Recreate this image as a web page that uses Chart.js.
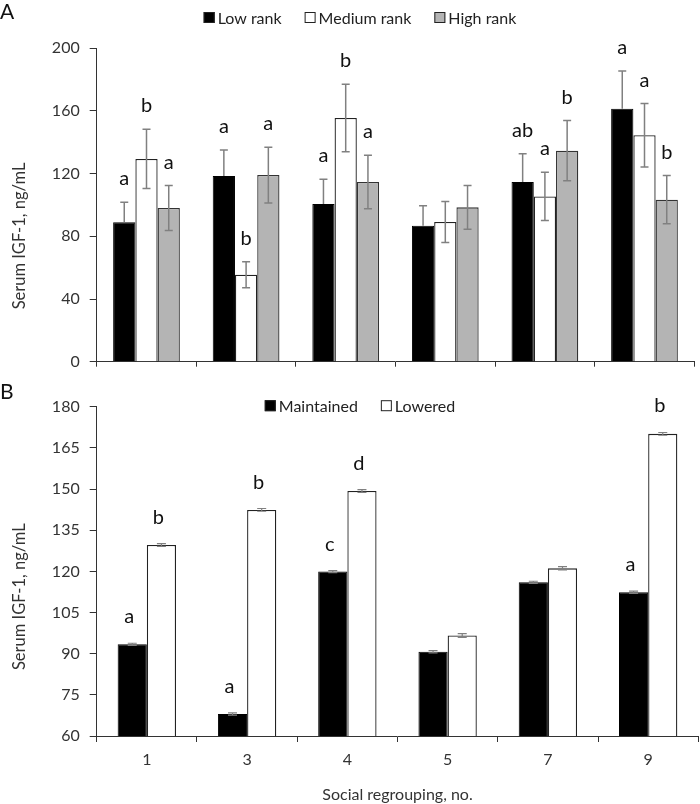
<!DOCTYPE html>
<html><head><meta charset="utf-8">
<script src="https://cdn.jsdelivr.net/npm/chart.js@4.4.1/dist/chart.umd.min.js"></script>
<style>
html,body{margin:0;padding:0;background:#fff;}
#wrap{position:relative;width:700px;height:804px;overflow:hidden;}
canvas{position:absolute;left:0;}
#ca{top:0;}
#cb{top:370px;}
</style></head><body>
<div id="wrap">
<canvas id="ca" width="700" height="382"></canvas>
<canvas id="cb" width="700" height="434"></canvas>
</div>
<script>
// ---- data ----
const groups = ['1', '3', '4', '5', '7', '9'];
const rankLabels = ['Low rank', 'Medium rank', 'High rank'];
const lowRank = [89.0, 118.5, 100.6, 86.8, 114.7, 161.5];
const lowRankErr = [12.7, 16.6, 15.8, 12.8, 18.0, 24.0];
const mediumRank = [129.4, 55.5, 155.5, 89.2, 105.5, 144.5];
const mediumRankErr = [18.9, 8.3, 21.5, 13.1, 15.4, 20.2];
const highRank = [98.1, 119.1, 114.7, 98.5, 134.7, 103.4];
const highRankErr = [14.3, 17.8, 17.1, 13.9, 19.2, 15.4];
const lowRankLetters = ['a', 'a', 'a', '', 'ab', 'a'];
const mediumRankLetters = ['b', 'b', 'b', '', 'a', 'a'];
const highRankLetters = ['a', 'a', 'a', '', 'b', 'b'];

const statusLabels = ['Maintained', 'Lowered'];
const maintained = [93.4, 68.0, 119.9, 90.7, 116.0, 112.4];
const maintainedErr = [0.4, 0.4, 0.4, 0.4, 0.4, 0.4];
const lowered = [129.6, 142.4, 149.3, 96.6, 121.1, 170.1];
const loweredErr = [0.5, 0.5, 0.5, 0.7, 0.6, 0.5];
const maintainedLetters = ['a', 'a', 'c', '', '', 'a'];
const loweredLetters = ['b', 'b', 'd', '', '', 'b'];

const yTicksA = [0, 40, 80, 120, 160, 200];
const yTicksB = [60, 75, 90, 105, 120, 135, 150, 165, 180];

const yTitle = 'Serum IGF-1, ng/mL';
const xTitle = 'Social regrouping, no.';

// ---- style ----
Chart.defaults.font.family = 'Lato';
Chart.defaults.font.size = 16;
Chart.defaults.color = '#333';
const AX = '#333';
const FONT = 'Lato';

const annotPlugin = {
  id: 'annot',
  afterDatasetsDraw(chart, args, o) {
    const ctx = chart.ctx, ys = chart.scales.y;
    ctx.save();
    chart.data.datasets.forEach((ds, di) => {
      const meta = chart.getDatasetMeta(di);
      meta.data.forEach((el, i) => {
        const v = ds.data[i], e = ds.errors[i];
        const yt = ys.getPixelForValue(v + e);
        const yb = ys.getPixelForValue(ds.plusOnly ? v : v - e);
        ctx.strokeStyle = o.errColor;
        ctx.lineWidth = o.errWidth;
        ctx.beginPath();
        ctx.moveTo(el.x, yt); ctx.lineTo(el.x, yb);
        ctx.moveTo(el.x - o.cap, yt); ctx.lineTo(el.x + o.cap, yt);
        if (!ds.plusOnly) { ctx.moveTo(el.x - o.cap, yb); ctx.lineTo(el.x + o.cap, yb); }
        ctx.stroke();
        const L = ds.letters[i];
        if (L) {
          ctx.fillStyle = '#111';
          ctx.font = o.letterFont;
          ctx.textAlign = 'center';
          ctx.textBaseline = 'alphabetic';
          ctx.fillText(L, el.x + (o.letterDx || 0), yt - o.letterGap);
        }
      });
    });
    ctx.restore();
  },
  afterDraw(chart, args, o) {
    const ctx = chart.ctx;
    ctx.save();
    // legend
    ctx.font = '16px ' + FONT;
    const items = chart.data.datasets.map(d => ({ t: d.label, f: d.backgroundColor, b: d.borderColor }));
    const box = 11, g1 = 3, g2 = 23;
    let total = 0;
    items.forEach((it, k) => { total += box + g1 + ctx.measureText(it.t).width + (k < items.length - 1 ? g2 : 0); });
    let x = o.legendX - total / 2;
    items.forEach(it => {
      const w = ctx.measureText(it.t).width;
      ctx.fillStyle = it.f;
      ctx.fillRect(x, o.legendY - box / 2, box, box);
      ctx.strokeStyle = '#222'; ctx.lineWidth = 1;
      ctx.strokeRect(x + 0.5, o.legendY - box / 2 + 0.5, box - 1, box - 1);
      x += box + g1;
      ctx.fillStyle = '#222'; ctx.textAlign = 'left'; ctx.textBaseline = 'middle';
      ctx.fillText(it.t, x, o.legendY + 1);
      x += w + g2;
    });
    // panel letter
    ctx.font = '21px ' + FONT;
    ctx.fillStyle = '#111'; ctx.textAlign = 'left'; ctx.textBaseline = 'middle';
    ctx.fillText(o.panel, 0, o.panelY);
    // y title
    ctx.font = '16.5px ' + FONT;
    ctx.fillStyle = '#333';
    ctx.translate(o.yTitleX, o.yTitleY);
    ctx.rotate(-Math.PI / 2);
    ctx.textAlign = 'center'; ctx.textBaseline = 'middle';
    ctx.fillText(yTitle, 0, 0);
    ctx.restore();
  }
};

function yScale(ticks, width) {
  return {
    min: ticks[0], max: ticks[ticks.length - 1],
    ticks: { stepSize: ticks[1] - ticks[0], padding: 10, color: '#333', font: { size: 16 } },
    grid: { drawOnChartArea: false, drawTicks: true, tickLength: 7, color: AX, lineWidth: 1 },
    border: { display: true, color: AX, width: 1 },
    afterFit(s) { s.width = width; }
  };
}

new Chart(document.getElementById('ca'), {
  type: 'bar',
  data: {
    labels: groups,
    datasets: [
      { label: rankLabels[0], data: lowRank, errors: lowRankErr, letters: lowRankLetters, plusOnly: true,
        backgroundColor: '#000', borderColor: '#000', borderWidth: 1 },
      { label: rankLabels[1], data: mediumRank, errors: mediumRankErr, letters: mediumRankLetters,
        backgroundColor: '#fff', borderColor: '#222', borderWidth: 1.3 },
      { label: rankLabels[2], data: highRank, errors: highRankErr, letters: highRankLetters,
        backgroundColor: '#b4b4b4', borderColor: '#333', borderWidth: 1.3 }
    ]
  },
  options: {
    responsive: false, animation: false,
    datasets: { bar: { categoryPercentage: 0.67, barPercentage: 1 } },
    layout: { padding: { top: 48.3, right: 5.7, left: 0, bottom: 0 } },
    plugins: {
      legend: { display: false }, tooltip: { enabled: false },
      annot: { errColor: '#808080', errWidth: 1.5, cap: 4, letterFont: '20px ' + FONT, letterGap: 17,
               legendX: 360, legendY: 17.5, panel: 'A', panelY: 12, yTitleX: 20, yTitleY: 236 }
    },
    scales: {
      x: {
        grid: { display: true, drawOnChartArea: false, drawTicks: true, tickLength: 5, color: AX, lineWidth: 1, offset: true },
        border: { display: true, color: AX, width: 1 },
        ticks: { display: false },
        afterFit(s) { s.height = 382 - 361.7; }
      },
      y: yScale(yTicksA, 96.7)
    }
  },
  plugins: [annotPlugin]
});

new Chart(document.getElementById('cb'), {
  type: 'bar',
  data: {
    labels: groups,
    datasets: [
      { label: statusLabels[0], data: maintained, errors: maintainedErr, letters: maintainedLetters,
        backgroundColor: '#000', borderColor: '#000', borderWidth: 1 },
      { label: statusLabels[1], data: lowered, errors: loweredErr, letters: loweredLetters,
        backgroundColor: '#fff', borderColor: '#222', borderWidth: 1.3 }
    ]
  },
  options: {
    responsive: false, animation: false,
    datasets: { bar: { categoryPercentage: 0.582, barPercentage: 1 } },
    layout: { padding: { top: 36.7, right: 1.7, left: 0, bottom: 0 } },
    plugins: {
      legend: { display: false }, tooltip: { enabled: false },
      annot: { errColor: '#808080', errWidth: 1.2, cap: 4.5, letterFont: '20px ' + FONT, letterGap: 20, letterDx: -3,
               legendX: 360, legendY: 35.7, panel: 'B', panelY: 22, yTitleX: 20, yTitleY: 226.7 }
    },
    scales: {
      x: {
        grid: { display: true, drawOnChartArea: false, drawTicks: true, tickLength: 6, color: AX, lineWidth: 1, offset: true },
        border: { display: true, color: AX, width: 1 },
        ticks: { padding: 8, color: '#333', font: { size: 16 }, maxRotation: 0 },
        title: { display: true, text: xTitle, color: '#333', font: { size: 16 }, padding: { top: 0, bottom: 0 } },
        afterFit(s) { s.height = 434 - 366; }
      },
      y: yScale(yTicksB, 96.7)
    }
  },
  plugins: [annotPlugin]
});
</script>
</body></html>
